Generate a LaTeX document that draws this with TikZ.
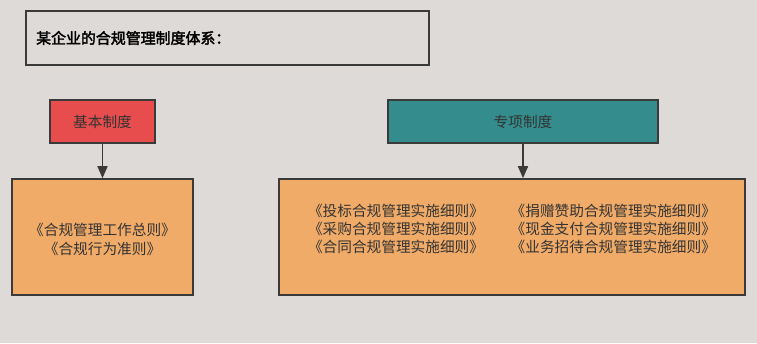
\documentclass[tikz,border=0pt]{standalone}
\usepackage{fontspec}
\newfontfamily\cjk{Noto Sans CJK SC}
\newfontfamily\cjkbold[FakeBold=2.5]{Noto Sans CJK SC}
\usepackage{xcolor}
\definecolor{paper}{HTML}{DEDAD7}
\definecolor{edge}{HTML}{3A3A3A}
\definecolor{ink}{HTML}{333333}
\definecolor{redbox}{HTML}{E84D4D}
\definecolor{tealbox}{HTML}{358C8C}
\definecolor{orangebox}{HTML}{F1AB68}
\usepackage{tikz}
\usetikzlibrary{arrows.meta,positioning,calc}
\tikzset{
    titlebox/.style={draw=edge, line width=1.5pt, fill=paper, minimum width=302pt, minimum height=40.5pt, text width=287pt, inner xsep=7.5pt, align=left, font=\cjkbold\fontsize{11.2}{13.5}\selectfont, text=black},
    headbox/.style={draw=edge, line width=1.2pt, minimum height=32.25pt, align=center, font=\cjk\fontsize{11}{13.5}\selectfont, text=ink},
    docbox/.style={draw=edge, line width=1.2pt, fill=orangebox, minimum height=87pt, align=center, font=\cjk\fontsize{11}{13.5}\selectfont, text=ink},
    listtext/.style={align=center, font=\cjk\fontsize{11}{13.5}\selectfont, text=ink, inner sep=0pt},
    arrow/.style={-{Triangle[length=9pt,width=7.5pt]}, line width=1.2pt, edge}
}

\begin{document}
\begin{tikzpicture}[x=0.75pt, y=-0.75pt]
  % canvas
  \fill[paper] (0,0) rectangle (757,343);
  \useasboundingbox (0,0) rectangle (757,343);

  % heading
  \node[titlebox] (title) at (227.5,38) {某企业的合规管理制度体系：};

  % two branches
  \node[headbox, fill=redbox, minimum width=78.75pt] (basic) at (102.5,121.5) {基本制度};
  \node[headbox, fill=tealbox, minimum width=202.5pt] (special) at (523,121.5) {专项制度};

  % documents
  \node[docbox, minimum width=135.75pt] (basicdoc) at (102.5,237) {};
  \node[listtext] (basiclist) at (102.5,239.5) {《合规管理工作总则》\\[0.4pt]《合规行为准则》};
  \node[docbox, minimum width=349.5pt] (specialdoc) at (512,237) {};
  \node[listtext] (speciallist) at (512,231) {%
    \begin{tabular}{@{}l@{\hspace{20pt}}l@{}}
      《投标合规管理实施细则》 & 《捐赠赞助合规管理实施细则》\\
      《采购合规管理实施细则》 & 《现金支付合规管理实施细则》\\
      《合同合规管理实施细则》 & 《业务招待合规管理实施细则》
    \end{tabular}};

  % links
  \draw[arrow] (basic) -- (basicdoc);
  \draw[arrow] (special.south) -- (special.south |- specialdoc.north);
\end{tikzpicture}
\end{document}
